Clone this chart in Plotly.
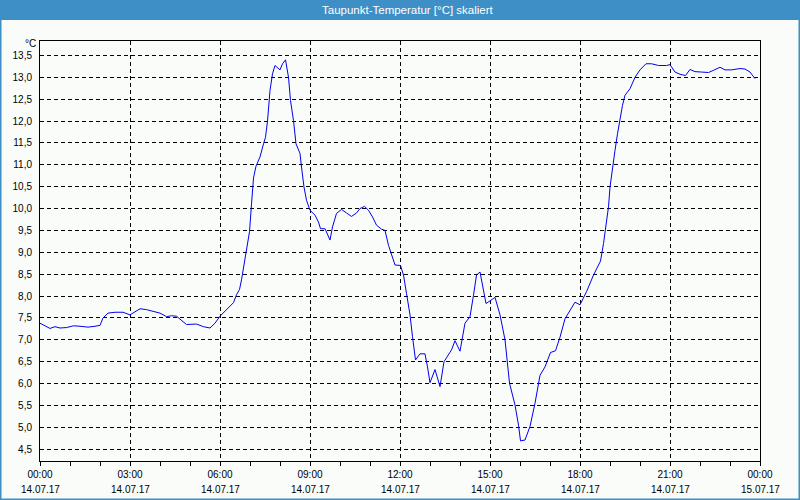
import plotly.graph_objects as go

title_text = "Taupunkt-Temperatur [°C] skaliert"
unit_label = "°C"
day = "2017-07-14"

times = ["00:00","00:20","00:30","00:40","00:53","01:07","01:20","01:36","01:50","02:00",
         "02:06","02:16","02:30","02:46","03:00","03:10","03:20","03:33","03:50","04:00",
         "04:13","04:23","04:33","04:43","04:53","05:13","05:27","05:40","05:50","06:00",
         "06:13","06:27","06:33","06:39","06:43","06:47","06:50","06:53","06:59","07:03",
         "07:07","07:12","07:20","07:27","07:31","07:35","07:40","07:45","07:50","08:00",
         "08:05","08:11","08:17","08:21","08:27","08:32","08:40","08:43","08:48","08:53",
         "09:00","09:10","09:17","09:21","09:30","09:40","09:45","09:53","10:03","10:13",
         "10:23","10:33","10:40","10:49","10:57","11:05","11:13","11:23","11:30","11:37",
         "11:45","11:50","12:01","12:07","12:13","12:20","12:25","12:31","12:40","12:50",
         "12:55","13:00","13:10","13:20","13:28","13:37","13:43","13:50","14:00","14:10",
         "14:20","14:27","14:33","14:40","14:47","14:52","15:00","15:10","15:20","15:30",
         "15:39","15:50","15:57","16:01","16:10","16:20","16:30","16:40","16:50","17:01",
         "17:11","17:20","17:30","17:40","17:50","18:00","18:13","18:27","18:41","18:47",
         "18:51","18:57","19:00","19:05","19:10","19:15","19:20","19:25","19:30","19:40",
         "19:50","20:00","20:12","20:23","20:37","20:53","21:00","21:10","21:20","21:31",
         "21:40","21:50","22:03","22:17","22:27","22:40","22:50","23:03","23:20","23:30",
         "23:40","23:50"]

dew_point = [7.38,7.26,7.30,7.27,7.28,7.32,7.31,7.29,7.31,7.33,
             7.50,7.61,7.63,7.63,7.57,7.64,7.71,7.69,7.63,7.61,
             7.53,7.55,7.54,7.44,7.35,7.36,7.30,7.27,7.38,7.54,
             7.68,7.85,8.03,8.15,8.37,8.67,8.82,9.01,9.47,10.10,
             10.70,10.97,11.18,11.48,11.63,12.00,12.70,13.08,13.27,13.17,
             13.31,13.40,13.00,12.47,12.01,11.48,11.26,10.95,10.49,10.19,
             9.96,9.85,9.69,9.54,9.54,9.28,9.58,9.89,9.98,9.90,
             9.82,9.90,10.00,10.05,9.96,9.81,9.62,9.53,9.50,9.16,
             8.86,8.71,8.70,8.48,8.06,7.57,7.07,6.54,6.68,6.68,
             6.38,6.02,6.32,5.93,6.50,6.65,6.77,6.98,6.74,7.38,
             7.53,8.02,8.48,8.55,8.13,7.83,7.89,7.97,7.57,7.00,
             6.01,5.51,5.05,4.69,4.71,5.02,5.55,6.19,6.38,6.71,
             6.75,7.06,7.48,7.68,7.86,7.80,8.10,8.48,8.80,9.20,
             9.50,10.04,10.49,10.95,11.33,11.71,12.05,12.36,12.59,12.74,
             13.00,13.17,13.31,13.31,13.27,13.27,13.29,13.12,13.07,13.04,
             13.18,13.13,13.12,13.11,13.16,13.23,13.17,13.17,13.20,13.19,
             13.12,12.97]

x_tick_dates = ["2017-07-14 00:00","2017-07-14 03:00","2017-07-14 06:00","2017-07-14 09:00",
                "2017-07-14 12:00","2017-07-14 15:00","2017-07-14 18:00","2017-07-14 21:00",
                "2017-07-15 00:00"]
x_tick_times = ["00:00","03:00","06:00","09:00","12:00","15:00","18:00","21:00","00:00"]
x_tick_days = ["14.07.17"] * 8 + ["15.07.17"]

y_tick_vals = [4.5,5.0,5.5,6.0,6.5,7.0,7.5,8.0,8.5,9.0,9.5,10.0,10.5,11.0,11.5,12.0,12.5,13.0,13.5]
y_tick_text = [f"{v:.1f}".replace(".", ",") for v in y_tick_vals]

assert len(times) == len(dew_point)
x_vals = [f"{day} {t}" for t in times]

FONT = "Liberation Sans"
BG = "#FAFCFA"
BLUE_BAR = "#3D8FC6"

# plot area: x 40..760 px, y 41..461 px
L, R, T, B = 40, 40, 41, 39
W, H = 800, 500
pw, ph = W - L - R, H - T - B
def px(x):
    return (x - L) / pw
def py(y):
    return (H - B - y) / ph

fig = go.Figure()
fig.add_trace(go.Scatter(x=x_vals, y=dew_point, mode="lines",
                         line=dict(color="#0000EE", width=1), showlegend=False,
                         hoverinfo="x+y"))

fig.update_layout(
    width=W, height=H,
    margin=dict(l=L, r=R, t=T, b=B, pad=0),
    paper_bgcolor=BG, plot_bgcolor=BG,
    font=dict(family=FONT, size=10, color="#000000"),
    showlegend=False,
    xaxis=dict(
        type="date",
        range=["2017-07-14 00:00", "2017-07-15 00:00"],
        tickmode="array", tickvals=x_tick_dates, ticktext=x_tick_times,
        ticks="outside", ticklen=4, tickcolor="#000000", tickwidth=1,
        minor=dict(ticks="outside", ticklen=4, tickcolor="#000000", dtick=3600000, showgrid=False),
        showgrid=True, gridcolor="#000000", gridwidth=1, griddash="4px,3px",
        showline=True, linecolor="#000000", linewidth=1, mirror=True,
        zeroline=False, tickfont=dict(family=FONT, size=10),
        fixedrange=True,
    ),
    yaxis=dict(
        range=[4.23, 13.83],
        tickmode="array", tickvals=y_tick_vals, ticktext=y_tick_text,
        ticks="", ticklabelstandoff=5,
        showgrid=True, gridcolor="#000000", gridwidth=1, griddash="4px,3px",
        showline=True, linecolor="#000000", linewidth=1, mirror=True,
        zeroline=False, tickfont=dict(family=FONT, size=10),
        fixedrange=True,
    ),
    shapes=[
        # title bar
        dict(type="rect", xref="paper", yref="paper", layer="below",
             x0=px(0), x1=px(W), y0=py(20), y1=py(0),
             fillcolor=BLUE_BAR, line=dict(width=0)),
        # outer frame
        dict(type="rect", xref="paper", yref="paper",
             x0=px(0.5), x1=px(W - 0.5), y0=py(H - 0.5), y1=py(0.5),
             line=dict(color=BLUE_BAR, width=2), fillcolor="rgba(0,0,0,0)"),
    ],
)

annotations = [
    dict(text=title_text, xref="paper", yref="paper", x=px(408), y=py(10),
         xanchor="center", yanchor="middle", showarrow=False,
         font=dict(family=FONT, size=11.5, color="#FFFFFF")),
    dict(text=unit_label, xref="paper", yref="paper", x=px(38), y=py(44),
         xanchor="right", yanchor="middle", showarrow=False,
         font=dict(family=FONT, size=10, color="#000000")),
]
for d, lab in zip(x_tick_dates, x_tick_days):
    annotations.append(dict(text=lab, xref="x", yref="paper", x=d, y=py(489),
                            xanchor="center", yanchor="middle", showarrow=False,
                            font=dict(family=FONT, size=10, color="#000000")))
fig.update_layout(annotations=annotations)

fig.write_html("out.html", config={"displayModeBar": False},
               post_script="document.body.style.margin='0';document.body.style.overflow='hidden';")
